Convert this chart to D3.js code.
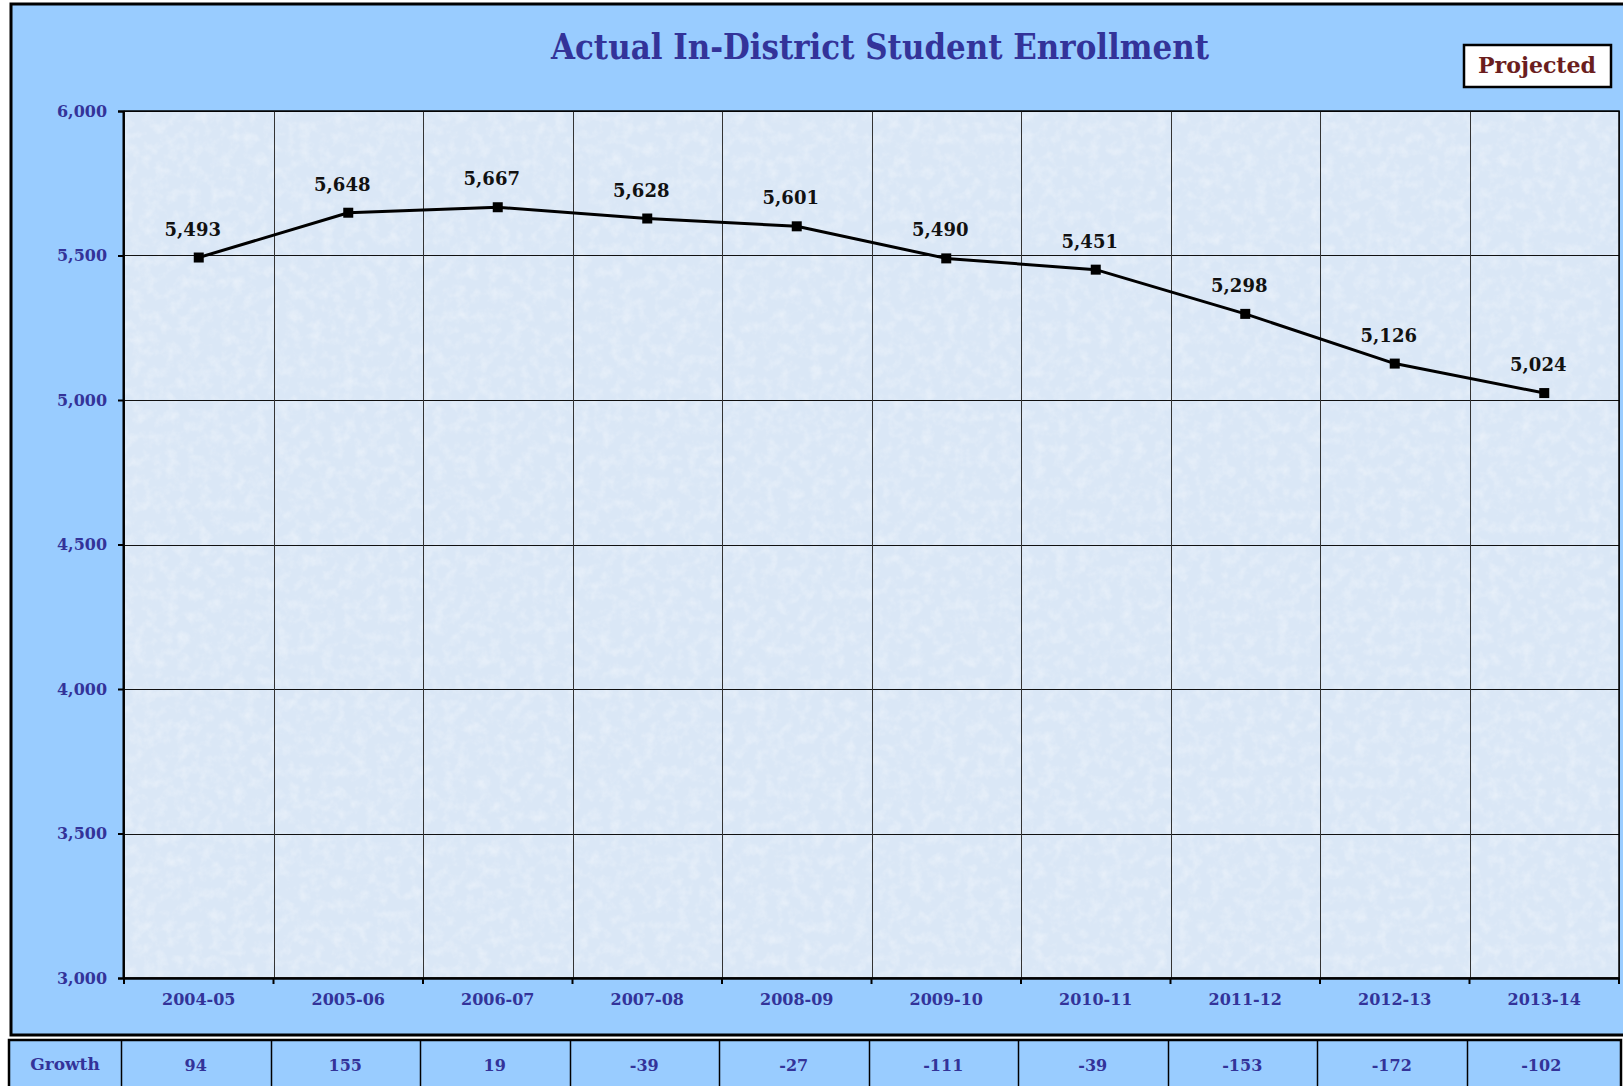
<!DOCTYPE html>
<html>
<head>
<meta charset="utf-8">
<script src="https://cdn.jsdelivr.net/npm/d3@7"></script>
<style>
  html, body { margin: 0; padding: 0; background: #ffffff; }
  svg { display: block; }
  text { font-family: "DejaVu Serif", "Liberation Serif", serif; font-weight: bold; }
</style>
</head>
<body>
<svg id="chart" width="1623" height="1086"></svg>
<script>
// ---- data ----
const categories = ["2004-05","2005-06","2006-07","2007-08","2008-09","2009-10","2010-11","2011-12","2012-13","2013-14"];
const enrollment = [5493, 5648, 5667, 5628, 5601, 5490, 5451, 5298, 5126, 5024];
const growth = [94, 155, 19, -39, -27, -111, -39, -153, -172, -102];
const yTicks = [3000, 3500, 4000, 4500, 5000, 5500, 6000];
const titleText = "Actual In-District Student Enrollment";
const projectedText = "Projected";
const growthLabel = "Growth";

// ---- layout ----
const svg = d3.select("#chart");
const plot = { left: 124, right: 1619, top: 111, bottom: 978 };
const axisColor = "#333399";
const bgBlue = "#99ccff";

const defs = svg.append("defs");
const f = defs.append("filter").attr("id", "tex").attr("x", 0).attr("y", 0).attr("width", 1).attr("height", 1);
f.append("feTurbulence").attr("type", "fractalNoise").attr("baseFrequency", 0.09).attr("numOctaves", 3).attr("seed", 7).attr("result", "n");
f.append("feColorMatrix").attr("in", "n").attr("type", "matrix")
  .attr("values", "0 0 0 0 1  0 0 0 0 1  0 0 0 0 1  0 0 0 -2.0 1.15");

// outer frame
svg.append("rect").attr("x", 11).attr("y", 4).attr("width", 1640).attr("height", 1031)
  .attr("fill", bgBlue).attr("stroke", "#000").attr("stroke-width", 3);

const x = d3.scaleBand().domain(categories).range([plot.left, plot.right]).padding(0);
const y = d3.scaleLinear().domain([3000, 6000]).range([plot.bottom, plot.top]);

// plot background
svg.append("rect").attr("x", plot.left).attr("y", plot.top)
  .attr("width", plot.right - plot.left).attr("height", plot.bottom - plot.top)
  .attr("fill", "#dae7f6");
svg.append("rect").attr("x", plot.left).attr("y", plot.top)
  .attr("width", plot.right - plot.left).attr("height", plot.bottom - plot.top)
  .attr("filter", "url(#tex)").attr("opacity", 0.35);

// horizontal gridlines
svg.append("g").selectAll("line").data(yTicks).join("line")
  .attr("x1", plot.left).attr("x2", plot.right)
  .attr("y1", d => Math.round(y(d)) + 0.5).attr("y2", d => Math.round(y(d)) + 0.5)
  .attr("stroke", "#111").attr("stroke-width", 1);

// vertical category separators
const bounds = categories.map(c => x(c)).concat([plot.right]);
svg.append("g").selectAll("line").data(bounds).join("line")
  .attr("x1", d => Math.round(d) + 0.5).attr("x2", d => Math.round(d) + 0.5)
  .attr("y1", plot.top).attr("y2", plot.bottom)
  .attr("stroke", "#333").attr("stroke-width", 1);

// plot border
svg.append("rect").attr("x", plot.left).attr("y", plot.top)
  .attr("width", plot.right - plot.left).attr("height", plot.bottom - plot.top)
  .attr("fill", "none").attr("stroke", "#000").attr("stroke-width", 1.5);

// y axis
const yAxis = d3.axisLeft(y).tickValues(yTicks).tickFormat(d3.format(",")).tickSize(5).tickPadding(11);
const gy = svg.append("g").attr("transform", `translate(${plot.left - 1},0)`).call(yAxis);
gy.select(".domain").attr("stroke", "#000").attr("stroke-width", 2);
gy.selectAll(".tick line").attr("stroke", "#000").attr("stroke-width", 2);
gy.selectAll(".tick text").attr("fill", axisColor).attr("font-size", 17)
  .attr("font-family", "DejaVu Serif").attr("font-weight", "bold")
  .attr("textLength", 50).attr("lengthAdjust", "spacingAndGlyphs");

// x axis
const xAxis = d3.axisBottom(x).tickSize(0).tickPadding(13);
const gx = svg.append("g").attr("transform", `translate(0,${plot.bottom})`).call(xAxis);
gx.select(".domain").attr("stroke", "#000").attr("stroke-width", 2.5);
gx.selectAll(".tick text").attr("fill", axisColor).attr("font-size", 16)
  .attr("font-family", "DejaVu Serif").attr("font-weight", "bold").attr("dy", "0.85em");
svg.append("g").selectAll("line").data(bounds).join("line")
  .attr("x1", d => d).attr("x2", d => d)
  .attr("y1", plot.bottom).attr("y2", plot.bottom + 6)
  .attr("stroke", "#000").attr("stroke-width", 2);

// line
const pts = categories.map((c, i) => ({ c, v: enrollment[i] }));
const line = d3.line().x(d => x(d.c) + x.bandwidth() / 2).y(d => y(d.v));
svg.append("path").datum(pts).attr("d", line)
  .attr("fill", "none").attr("stroke", "#000").attr("stroke-width", 3).attr("stroke-linejoin", "round");
svg.append("g").selectAll("rect").data(pts).join("rect")
  .attr("x", d => x(d.c) + x.bandwidth() / 2 - 5).attr("y", d => y(d.v) - 5)
  .attr("width", 10).attr("height", 10).attr("fill", "#000");

// data labels
svg.append("g").selectAll("text").data(pts).join("text")
  .attr("x", d => x(d.c) + x.bandwidth() / 2 - 6)
  .attr("y", d => y(d.v) - 22)
  .attr("text-anchor", "middle").attr("font-size", 18).attr("fill", "#111")
  .text(d => d3.format(",")(d.v));

// title
svg.append("text").attr("x", 880).attr("y", 59).attr("text-anchor", "middle")
  .attr("font-size", 36).attr("fill", axisColor)
  .attr("textLength", 658).attr("lengthAdjust", "spacingAndGlyphs")
  .text(titleText);

// projected box
svg.append("rect").attr("x", 1464).attr("y", 45).attr("width", 147).attr("height", 42)
  .attr("fill", "#fff").attr("stroke", "#000").attr("stroke-width", 2.5);
svg.append("text").attr("x", 1537).attr("y", 73).attr("text-anchor", "middle")
  .attr("font-size", 22).attr("fill", "#6b1e1e")
  .attr("textLength", 118).attr("lengthAdjust", "spacingAndGlyphs")
  .text(projectedText);

// growth table
const tbl = { left: 9, top: 1040, first: 121, colW: x.bandwidth() };
const colX = d3.scaleBand().domain(categories).range([tbl.first, tbl.first + tbl.colW * categories.length]);
svg.append("rect").attr("x", tbl.left).attr("y", tbl.top).attr("width", 1621 - tbl.left).attr("height", 80)
  .attr("fill", bgBlue).attr("stroke", "#000").attr("stroke-width", 2.5);
svg.append("g").selectAll("line").data(categories).join("line")
  .attr("x1", d => Math.round(colX(d)) + 0.5).attr("x2", d => Math.round(colX(d)) + 0.5)
  .attr("y1", tbl.top).attr("y2", 1086)
  .attr("stroke", "#000").attr("stroke-width", 1.5);
svg.append("text").attr("x", (tbl.left + tbl.first) / 2).attr("y", 1070)
  .attr("text-anchor", "middle").attr("font-size", 17).attr("fill", axisColor).text(growthLabel);
svg.append("g").selectAll("text").data(categories).join("text")
  .attr("x", d => colX(d) + colX.bandwidth() / 2).attr("y", 1071)
  .attr("text-anchor", "middle").attr("font-size", 16).attr("fill", axisColor)
  .text((d, i) => growth[i]);
</script>
</body>
</html>
